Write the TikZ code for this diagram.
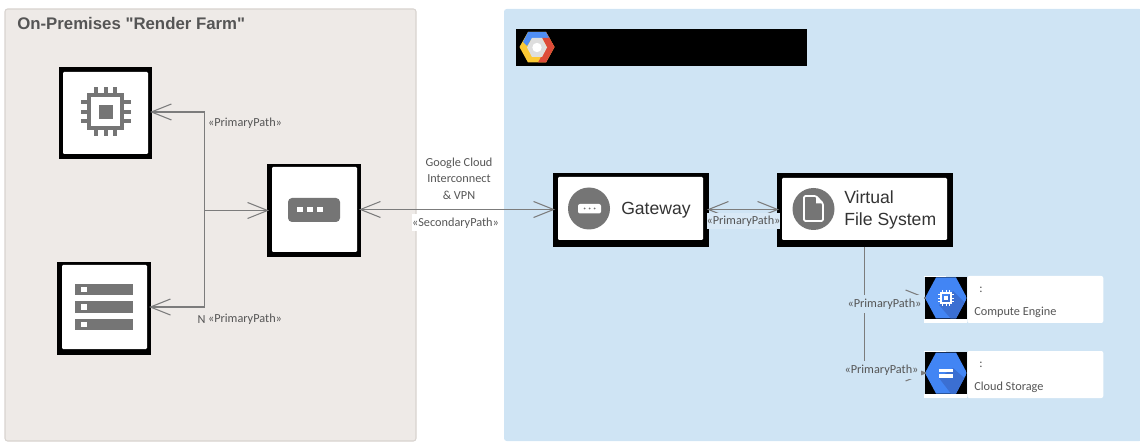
\documentclass[tikz,border=0pt]{standalone}
\usepackage{fontspec}
\setmainfont{Carlito}
\newfontfamily\tilefont{Liberation Sans}
\usepackage{xcolor}
\usetikzlibrary{arrows.meta}
\definecolor{farmpanel}{HTML}{EEEAE7}
\definecolor{farmedge}{HTML}{D8D3CF}
\definecolor{cloudpanel}{HTML}{CFE4F4}
\definecolor{pathgray}{HTML}{7C7C7C}
\definecolor{icongray}{HTML}{757575}
\definecolor{labelgray}{HTML}{555555}
\definecolor{hexblue}{HTML}{4285F4}
\definecolor{hexshade}{HTML}{3B6FD2}
\definecolor{logoblue}{HTML}{4F8EF5}
\definecolor{logored}{HTML}{DD4B39}
\definecolor{logoyellow}{HTML}{FCC934}
\tikzstyle{pathhead}=[>/.tip={Straight Barb[length=15pt,width=12pt,line width=.8pt]},shorten >=-1.5pt]
\tikzstyle{prim}=[line width=.8pt,draw=pathgray,pathhead,->]
\tikzstyle{primboth}=[line width=.8pt,draw=pathgray,pathhead,<->,shorten <=-1.5pt]
\tikzstyle{pathlabel}=[font=\fontsize{9.2pt}{10pt}\selectfont,text=labelgray,inner sep=0pt,outer sep=0pt]
\tikzstyle{tile}=[fill=black,inner sep=0pt,outer sep=0pt,minimum width=#1*.75pt]
\tikzstyle{tilecard}=[fill=white,rounded corners=.8pt,inner sep=0pt,outer sep=0pt,minimum width=#1*.75pt]
\tikzstyle{tiletext}=[font=\tilefont\fontsize{13.2pt}{16.5pt}\selectfont,text=black!80,inner sep=0pt,anchor=west,align=left]
\tikzstyle{cardtext}=[font=\fontsize{9.2pt}{10pt}\selectfont,text=labelgray,inner sep=0pt,anchor=west]
\tikzstyle{hexicon}=[fill=black,inner sep=0pt,outer sep=0pt,minimum size=42*.75pt]
\begin{document}
\begin{tikzpicture}[x=.75pt,y=-.75pt]
	\useasboundingbox (0,0) rectangle (1140,442);
	% panels
	\fill[farmpanel,draw=farmedge,line width=.8pt,rounded corners=2pt] (5,9) rectangle (416,441);
	\fill[cloudpanel,rounded corners=2pt] (504,9) rectangle (1142,441);
	\node[anchor=west,inner sep=0pt,text=labelgray,font=\tilefont\bfseries\fontsize{12.6pt}{14pt}\selectfont] (farmtitle) at (17,23) {On-Premises "Render Farm"};
	\node[fill=black,inner sep=0pt,minimum width=291*.75pt,minimum height=37*.75pt] (cloudbar) at (661.5,47.5) {};
	% logo
	\fill[logoyellow] (519.5,47) -- (528,32) -- (546,32) -- (554.5,47) -- (546,62.5) -- (528,62.5) -- cycle;
	\fill[logoblue] (523,42) -- (528,32) -- (546,32) -- (549.5,38) -- (532,38) -- (527,46) -- cycle;
	\fill[logored] (546,32) -- (554.5,47) -- (546,62.5) -- (538,62.5) -- (541,57) -- (547,47) -- (542,38) -- (549,38) -- cycle;
	\fill[black!13] (527,47.5) -- (532,38) -- (542,38) -- (547,47.5) -- (542,57) -- (532,57) -- cycle;
	\fill[white] (537,47.5) circle (4.7);
	% tiles
	\node[tile=93,minimum height=92*.75pt] (cpu) at (105.5,113) {};
	\node[tilecard=85,minimum height=82*.75pt] (cpucard) at (105.5,113) {};
	\node[tile=94,minimum height=93*.75pt] (rack) at (104,308.5) {};
	\node[tilecard=85,minimum height=84*.75pt] (rackcard) at (104.5,307) {};
	\node[tile=94,minimum height=93*.75pt] (router) at (314,210.5) {};
	\node[tilecard=85,minimum height=85*.75pt] (routercard) at (314.5,209.5) {};
	\node[tile=156,minimum height=74*.75pt] (gateway) at (631,210) {};
	\node[tilecard=145,minimum height=63*.75pt] (gatewaycard) at (630.5,208.5) {};
	\node[tile=176,minimum height=74*.75pt] (vfs) at (865,210) {};
	\node[tilecard=165,minimum height=62*.75pt] (vfscard) at (864.5,209) {};
	% cpu icon
	\draw[icongray,line width=3pt] (89,95.5) rectangle (122,128.5);
	\fill[icongray] (98.5,105) rectangle (112.5,119);
	\foreach \p in {-9.5,0,9.5} {
		\fill[icongray] (105.5+\p-2,87.5) rectangle (105.5+\p+2,94);
		\fill[icongray] (105.5+\p-2,130) rectangle (105.5+\p+2,136.5);
		\fill[icongray] (81,112+\p-2) rectangle (88,112+\p+2);
		\fill[icongray] (123,112+\p-2) rectangle (130.5,112+\p+2);
	}
	% rack icon
	\foreach \y in {284,301.5,319} {
		\fill[icongray] (75,\y) rectangle (133,\y+11.5);
		\fill[white] (81,\y+3) rectangle (87,\y+8.5);
	}
	% router icon
	\fill[icongray,rounded corners=3pt] (288,198) rectangle (340,222);
	\foreach \x in {297,307,317} {
		\fill[white] (\x,207) rectangle (\x+6,212.5);
	}
	% gateway icon
	\fill[icongray] (589,208.5) circle (21);
	\fill[white,rounded corners=1.5pt] (578,204) rectangle (601,213.5);
	\foreach \x in {584.5,589.5,594.5} {
		\fill[icongray] (\x,208.5) circle (1);
	}
	\node[tiletext] (gatewaytext) at (621,210) {Gateway};
	% file icon
	\fill[icongray] (813.5,209) circle (21);
	\draw[white,line width=1.3pt,rounded corners=1pt] (804,196) -- (816,196) -- (823,203.5) -- (823,221) -- (804,221) -- cycle;
	\fill[white] (816,196) -- (823,203.5) -- (816,203.5) -- cycle;
	\node[tiletext] (vfstext) at (844,210) {Virtual\\File System};
	% hexagon icons
	\node[hexicon] (compute) at (946,298) {};
	\node[fill=white,rounded corners=1.5pt,inner sep=0pt,minimum width=136*.75pt,minimum height=47*.75pt,anchor=west] (computecard) at (967,299.5) {};
	\fill[white] (924,276) rectangle (946,277);
	\fill[white] (924,319) rectangle (967,323);
	\begin{scope}
		\clip (925,298) -- (936,277.5) -- (956,277.5) -- (967,298) -- (956,318.5) -- (936,318.5) -- cycle;
		\fill[hexblue] (925,277) rectangle (967,319);
		\fill[hexshade] (953,291) -- (970,308) -- (970,320) -- (952,320) -- (939,305) -- cycle;
	\end{scope}
	\draw[white,line width=.9pt] (941,293) rectangle (951,303);
	\fill[white] (944,296) rectangle (948,300);
	\foreach \p in {-3.2,0,3.2} {
		\draw[white,line width=.6pt] (946+\p,290) -- (946+\p,293);
		\draw[white,line width=.6pt] (946+\p,303) -- (946+\p,306);
		\draw[white,line width=.6pt] (938,298+\p) -- (941,298+\p);
		\draw[white,line width=.6pt] (951,298+\p) -- (954,298+\p);
	}
	\node[cardtext] (computecolon) at (979,290) {:};
	\node[cardtext] (computetext) at (974,312) {Compute Engine};
	\node[hexicon] (storage) at (946,373) {};
	\node[fill=white,rounded corners=1.5pt,inner sep=0pt,minimum width=136*.75pt,minimum height=47*.75pt,anchor=west] (storagecard) at (967,374.5) {};
	\fill[white] (924,351) rectangle (946,352);
	\fill[white] (924,394) rectangle (967,398);
	\begin{scope}
		\clip (925,373) -- (936,352.5) -- (956,352.5) -- (967,373) -- (956,393.5) -- (936,393.5) -- cycle;
		\fill[hexblue] (925,352) rectangle (967,394);
		\fill[hexshade] (953,368) -- (970,383) -- (970,395) -- (952,395) -- (939,378) -- cycle;
	\end{scope}
	\fill[white] (939,368.5) rectangle (953,372.3);
	\fill[white] (939,373.7) rectangle (953,377.5);
	\node[cardtext] (storagecolon) at (979,365) {:};
	\node[cardtext] (storagetext) at (974,387) {Cloud Storage};
	% connectors
	\coordinate (farmjoin) at (204.5,210.5);
	\draw[prim] (farmjoin) |- ([yshift=.75pt]cpu.east);
	\draw[prim] (farmjoin) |- ([yshift=1.1pt]rack.east);
	\draw[prim] (farmjoin) -- (router.west);
	\draw[primboth] ([yshift=.75pt]router.east) -- ([yshift=.375pt]gateway.west);
	\draw[primboth] ([yshift=.375pt]gateway.east) -- ([yshift=.375pt]vfs.west);
	\draw[prim] ([xshift=-.4pt]vfs.south) |- (compute.west);
	\draw[prim] ([xshift=-.4pt]vfs.south) |- (storage.west);
	% labels
	\node[pathlabel] (cpulabel) at (245,123.5) {«PrimaryPath»};
	\node[pathlabel] (strayn) at (201.5,320) {N};
	\node[pathlabel,fill=farmpanel] (racklabel) at (245,319) {«PrimaryPath»};
	\node[pathlabel,align=center] (linklabel) at (459,178.5) {Google Cloud\\[2.3pt]Interconnect\\[2.3pt]\& VPN};
	\node[pathlabel,fill=white,minimum height=17*.75pt] (secondlabel) at (455.5,223) {«SecondaryPath»};
	\node[pathlabel,fill=cloudpanel!80!white,minimum height=16*.75pt] (vfslabel) at (743.5,221.5) {«PrimaryPath»};
	\node[pathlabel,fill=cloudpanel,minimum height=18*.75pt,minimum width=78*.75pt] (computelabel) at (884.5,304) {«PrimaryPath»};
	\node[pathlabel,fill=cloudpanel,minimum height=18*.75pt,minimum width=78*.75pt] (storagelabel) at (881.5,370) {«PrimaryPath»};
\end{tikzpicture}
\end{document}
